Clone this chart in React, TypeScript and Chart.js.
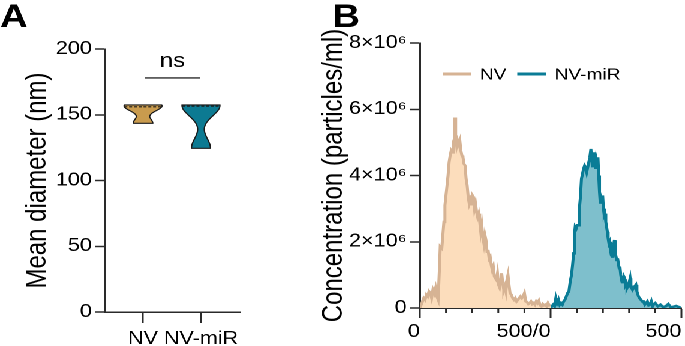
import React, { useEffect, useRef } from 'react';
import { Chart, registerables } from 'chart.js';

Chart.register(...registerables);

// ---------------- Panel A data ----------------
const groups = ['NV', 'NV-miR'];
const nvDiameters = [143.5, 156, 157.5];
const nvMirDiameters = [124.5, 156.5, 157.5];
const diameterTicks = [0, 50, 100, 150, 200];
const bracketValue = 178;

// ---------------- Panel B data ----------------
const nvSizes = [0, 8, 15, 20, 25, 30, 35, 40, 45, 50, 55, 60, 65, 70, 75, 78, 84, 88, 92, 96, 100, 104, 108, 112, 116, 120, 124, 128, 132, 134, 137, 141, 145, 149, 153, 157, 161, 165, 169, 173, 177, 181, 185, 189, 193, 197, 201, 205, 209, 213, 217, 221, 225, 229, 233, 237, 241, 245, 249, 253, 257, 261, 265, 269, 273, 277, 281, 285, 289, 293, 297, 301, 305, 309, 313, 317, 321, 325, 329, 333, 337, 341, 345, 350, 355, 360, 365, 370, 375, 380, 385, 390, 395, 400, 405, 410, 415, 420, 425, 430, 435, 440, 445, 450, 455, 460, 465, 470, 475, 480, 485, 490, 495, 500];
const nvConc = [0, 0.15, 0.3, 0.25, 0.4, 0.35, 0.5, 0.45, 0.3, 0.55, 0.45, 0.6, 0.35, 0.25, 1.2, 1.85, 1.8, 2.2, 2.6, 3.1, 3.4, 3.7, 4.0, 4.4, 4.6, 4.75, 4.7, 5.0, 5.1, 5.75, 5.2, 4.9, 5.05, 4.95, 5.05, 4.75, 4.6, 4.55, 4.35, 4.3, 3.9, 3.7, 3.35, 3.15, 3.25, 3.1, 3.4, 3.35, 3.0, 3.15, 2.9, 2.75, 2.85, 2.6, 2.3, 2.5, 2.15, 1.95, 2.2, 2.05, 1.7, 1.75, 1.5, 1.55, 1.3, 1.15, 1.25, 0.95, 0.9, 0.85, 1.05, 0.7, 0.62, 0.8, 1.05, 0.75, 0.55, 0.65, 0.5, 0.85, 1.0, 0.7, 0.45, 0.4, 0.3, 0.25, 0.3, 0.2, 0.25, 0.3, 0.35, 0.3, 0.35, 0.45, 0.2, 0.18, 0.12, 0.15, 0.2, 0.12, 0.15, 0.1, 0.2, 0.15, 0.22, 0.08, 0.05, 0.12, 0.08, 0.1, 0.05, 0.15, 0.08, 0.1];

const mirSizes = [0, 5, 10, 15, 20, 25, 30, 35, 40, 45, 50, 55, 60, 65, 70, 75, 80, 84, 88, 91, 94, 98, 102, 106, 110, 114, 118, 122, 126, 130, 134, 138, 142, 146, 150, 154, 157, 160, 163, 166, 169, 172, 175, 178, 181, 184, 187, 190, 193, 196, 199, 202, 205, 208, 211, 214, 217, 220, 223, 226, 229, 232, 235, 238, 241, 244, 247, 250, 253, 256, 259, 262, 265, 268, 271, 274, 277, 280, 283, 286, 289, 292, 295, 298, 301, 304, 307, 310, 313, 317, 321, 326, 330, 336, 340, 345, 350, 355, 360, 365, 370, 375, 380, 385, 390, 395, 400, 410, 420, 430, 440, 450, 460, 470, 480, 490, 500];
const mirConc = [0, 0.05, 0.1, 0.05, 0.3, 0.15, 0.25, 0.1, 0.15, 0.1, 0.2, 0.25, 0.35, 0.45, 0.5, 0.8, 1.0, 1.3, 1.65, 2.2, 2.45, 2.4, 2.5, 2.5, 3.0, 3.35, 3.9, 4.05, 4.2, 4.3, 4.25, 4.1, 4.1, 4.4, 4.55, 4.8, 4.5, 4.25, 4.45, 4.7, 4.35, 4.2, 4.5, 4.4, 4.55, 4.0, 3.5, 3.15, 3.3, 3.2, 3.4, 3.0, 2.8, 2.85, 2.6, 2.45, 2.3, 2.1, 1.95, 2.0, 1.75, 1.6, 1.55, 1.8, 1.9, 2.05, 1.7, 1.55, 1.45, 1.5, 1.35, 1.2, 1.25, 1.0, 0.85, 0.75, 0.85, 0.95, 0.9, 0.7, 0.75, 0.6, 0.65, 0.7, 0.8, 0.9, 0.7, 0.6, 0.55, 0.6, 0.65, 0.7, 0.5, 0.35, 0.3, 0.25, 0.2, 0.2, 0.1, 0.15, 0.2, 0.08, 0.1, 0.2, 0.05, 0.12, 0.15, 0.05, 0.1, 0.03, 0.05, 0.12, 0.02, 0.04, 0.06, 0.03, 0];
const mirOffset = 500; // second panel of the split axis starts at 500

const concTicks = [0, 2, 4, 6, 8];
const concTickLabels = ['0', '2×10⁶', '4×10⁶', '6×10⁶', '8×10⁶'];
const sizeTicks = [0, 100, 200, 300, 400, 500, 600, 700, 800, 900, 1000];
const sizeTickLabels: Record<number, string> = { 0: '0', 500: '500/0', 1000: '500' };

// ---------------- styles ----------------
const FAMILY = '"Liberation Sans", Arial, "Noto Sans CJK SC", sans-serif';
const AXIS = '#2a2a2a';
const TEXT = '#000';
const font = (size: number, weight: string = 'normal') => ({ family: FAMILY, size, weight });

const violinPlugin = {
  id: 'violin',
  afterDatasetsDraw(chart: any) {
    const { ctx, scales } = chart;
    const xs = scales.x, ys = scales.y;
    const maxHalf = 15.8;
    chart.data.datasets.forEach((ds: any) => {
      const vals = ds.data.map((p: any) => p.y).slice().sort((a: number, b: number) => a - b);
      const cx = xs.getPixelForValue(ds.data[0].x);
      const h = ds.bandwidth;
      const dens = (v: number) => vals.reduce((s: number, vi: number) => s + Math.exp(-((v - vi) ** 2) / (2 * h * h)), 0);
      const lo = vals[0], hi = vals[vals.length - 1];
      const N = 120;
      const pts: { v: number; d: number }[] = [];
      let maxD = 0;
      for (let k = 0; k <= N; k++) {
        const v = lo + ((hi - lo) * k) / N;
        const d = dens(v);
        maxD = Math.max(maxD, d);
        pts.push({ v, d });
      }
      ctx.save();
      ctx.beginPath();
      pts.forEach((p, i) => {
        const px = cx + (p.d / maxD) * maxHalf;
        const py = ys.getPixelForValue(p.v);
        if (i === 0) ctx.moveTo(px, py); else ctx.lineTo(px, py);
      });
      for (let i = pts.length - 1; i >= 0; i--) {
        const p = pts[i];
        ctx.lineTo(cx - (p.d / maxD) * maxHalf, ys.getPixelForValue(p.v));
      }
      ctx.closePath();
      ctx.fillStyle = ds.backgroundColor;
      ctx.fill();
      ctx.lineWidth = 1.1;
      ctx.strokeStyle = '#1a1a1a';
      ctx.stroke();
      // median
      const med = vals[Math.floor(vals.length / 2)];
      const mw = (dens(med) / maxD) * maxHalf;
      const my = ys.getPixelForValue(med);
      ctx.setLineDash([2.5, 1.5]);
      ctx.lineWidth = 1.1;
      ctx.beginPath();
      ctx.moveTo(cx - mw, my);
      ctx.lineTo(cx + mw, my);
      ctx.stroke();
      ctx.restore();
    });
  },
};

const panelAPlugin = {
  id: 'panelA',
  afterDraw(chart: any) {
    const { ctx, scales } = chart;
    ctx.save();
    ctx.fillStyle = TEXT;
    ctx.font = `bold 32px ${FAMILY}`;
    ctx.textAlign = 'left';
    ctx.textBaseline = 'alphabetic';
    ctx.fillText('A', 0, 27);
    const x0 = scales.x.getPixelForValue(0) + 1.5;
    const x1 = scales.x.getPixelForValue(1) - 0.8;
    const yb = scales.y.getPixelForValue(bracketValue);
    ctx.strokeStyle = AXIS;
    ctx.lineWidth = 1.4;
    ctx.beginPath();
    ctx.moveTo(x0, yb);
    ctx.lineTo(x1, yb);
    ctx.stroke();
    ctx.font = `20px ${FAMILY}`;
    ctx.textAlign = 'center';
    ctx.fillText('ns', (x0 + x1) / 2, yb - 11);
    ctx.restore();
  },
};

const panelBPlugin = {
  id: 'panelB',
  afterDraw(chart: any) {
    const { ctx, scales } = chart;
    const xs = scales.x;
    ctx.save();
    // minor ticks
    ctx.strokeStyle = AXIS;
    ctx.lineWidth = 1.5;
    xs.ticks.forEach((t: any) => {
      if (sizeTickLabels[t.value] !== undefined) return;
      const px = xs.getPixelForValue(t.value);
      ctx.beginPath();
      ctx.moveTo(px, xs.top);
      ctx.lineTo(px, xs.top + 5);
      ctx.stroke();
    });
    // panel letter
    ctx.fillStyle = TEXT;
    ctx.font = `bold 32px ${FAMILY}`;
    ctx.textAlign = 'left';
    ctx.textBaseline = 'alphabetic';
    ctx.fillText('B', 47, 27);
    // legend
    ctx.font = `16px ${FAMILY}`;
    ctx.textBaseline = 'middle';
    let x = 139;
    const y = 74;
    chart.data.datasets.forEach((ds: any) => {
      ctx.strokeStyle = ds.borderColor;
      ctx.lineWidth = 3;
      ctx.beginPath();
      ctx.moveTo(x, y);
      ctx.lineTo(x + 24, y);
      ctx.stroke();
      ctx.fillStyle = TEXT;
      ctx.fillText(ds.label, x + 31, y + 1);
      x += 31 + ctx.measureText(ds.label).width + 9;
    });
    ctx.restore();
  },
};

export default function App() {
  const refA = useRef<HTMLCanvasElement>(null);
  const refB = useRef<HTMLCanvasElement>(null);

  useEffect(() => {
    const chartA = new Chart(refA.current as HTMLCanvasElement, {
      type: 'scatter',
      data: {
        datasets: [
          { label: groups[0], data: nvDiameters.map((v) => ({ x: 0, y: v })), backgroundColor: '#C99B4E', pointRadius: 0, bandwidth: 4 } as any,
          { label: groups[1], data: nvMirDiameters.map((v) => ({ x: 1, y: v })), backgroundColor: '#0C7A92', pointRadius: 0, bandwidth: 8 } as any,
        ],
      },
      options: {
        responsive: false,
        animation: false,
        devicePixelRatio: 2,
        layout: { padding: { top: 49, right: 30, bottom: 0, left: 0 } },
        plugins: { legend: { display: false }, tooltip: { enabled: false } },
        scales: {
          x: {
            type: 'linear',
            min: -0.656,
            max: 1.673,
            afterBuildTicks: (s: any) => { s.ticks = groups.map((_, i) => ({ value: i })); },
            afterFit: (s: any) => { s.height = 34; },
            grid: { drawOnChartArea: false, tickLength: 11, tickWidth: 1.5, tickColor: AXIS },
            border: { color: AXIS, width: 1.5 },
            ticks: { callback: (v: any) => groups[v] ?? '', font: font(18), color: TEXT, padding: 5, maxRotation: 0, autoSkip: false },
          },
          y: {
            min: 0,
            max: 200,
            afterBuildTicks: (s: any) => { s.ticks = diameterTicks.map((v) => ({ value: v })); },
            afterFit: (s: any) => { s.width = 87.5; },
            grid: { drawOnChartArea: false, tickLength: 8, tickWidth: 1.5, tickColor: AXIS },
            border: { color: AXIS, width: 1.5 },
            ticks: { font: font(18), color: TEXT, padding: 3 },
            title: { display: true, text: 'Mean diameter (nm)', font: font(24), color: TEXT, padding: { top: 17, bottom: 0 } },
          },
        },
      },
      plugins: [violinPlugin, panelAPlugin],
    } as any);

    const chartB = new Chart(refB.current as HTMLCanvasElement, {
      type: 'line',
      data: {
        datasets: [
          {
            label: 'NV',
            data: nvSizes.map((s, i) => ({ x: s, y: nvConc[i] })),
            borderColor: '#D6B394',
            backgroundColor: '#FCDDBC',
            fill: 'origin',
            borderWidth: 2.5,
            pointRadius: 0,
            tension: 0,
          },
          {
            label: 'NV-miR',
            data: mirSizes.map((s, i) => ({ x: mirOffset + s, y: mirConc[i] })),
            borderColor: '#0A7C96',
            backgroundColor: '#7EBFCC',
            fill: 'origin',
            borderWidth: 2.5,
            pointRadius: 0,
            tension: 0,
          },
        ],
      },
      options: {
        responsive: false,
        animation: false,
        devicePixelRatio: 2,
        layout: { padding: { top: 43, right: 2, bottom: 0, left: 0 } },
        plugins: { legend: { display: false }, tooltip: { enabled: false } },
        scales: {
          x: {
            type: 'linear',
            min: 0,
            max: 1000,
            afterBuildTicks: (s: any) => { s.ticks = sizeTicks.map((v) => ({ value: v })); },
            afterFit: (s: any) => { s.height = 38; },
            grid: {
              drawOnChartArea: false,
              tickLength: 10,
              tickWidth: 1.5,
              tickColor: (c: any) => (c.tick && sizeTickLabels[c.tick.value] !== undefined ? AXIS : 'rgba(0,0,0,0)'),
            },
            border: { color: AXIS, width: 1.5 },
            ticks: {
              callback: (v: any) => sizeTickLabels[v] ?? '',
              font: font(18),
              color: TEXT,
              padding: 3,
              align: 'end',
              maxRotation: 0,
              autoSkip: false,
            },
          },
          y: {
            min: 0,
            max: 8,
            afterBuildTicks: (s: any) => { s.ticks = concTicks.map((v) => ({ value: v })); },
            afterFit: (s: any) => { s.width = 120; },
            grid: { drawOnChartArea: false, tickLength: 8, tickWidth: 1.5, tickColor: AXIS },
            border: { color: AXIS, width: 1.5 },
            ticks: {
              callback: (v: any) => concTickLabels[concTicks.indexOf(v)] ?? '',
              font: font(18),
              color: TEXT,
              padding: 3,
            },
            title: { display: true, text: 'Concentration (particles/ml)', font: font(24), color: TEXT, padding: { top: 34, bottom: 0 } },
          },
        },
      },
      plugins: [panelBPlugin],
    } as any);

    return () => {
      chartA.destroy();
      chartB.destroy();
    };
  }, []);

  return (
    <div
      style={{
        position: 'fixed',
        left: 0,
        top: 0,
        width: 571,
        height: 346,
        transform: `scaleX(${685 / 571})`,
        transformOrigin: '0 0',
        background: '#fff',
      }}
    >
      <canvas ref={refA} width={230} height={346} style={{ position: 'absolute', left: 0, top: 0, width: 230, height: 346 }} />
      <canvas ref={refB} width={341} height={346} style={{ position: 'absolute', left: 230, top: 0, width: 341, height: 346 }} />
    </div>
  );
}
